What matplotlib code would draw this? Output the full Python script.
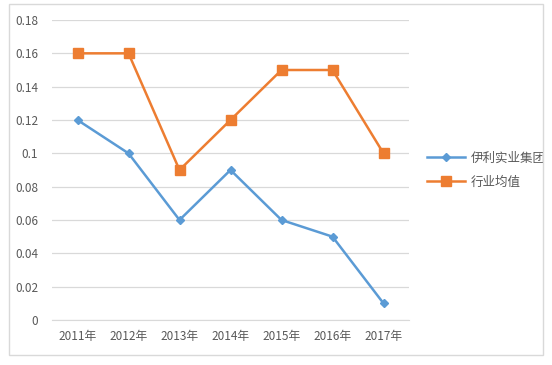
import matplotlib
matplotlib.use("Agg")
import matplotlib.pyplot as plt
from matplotlib.patches import Rectangle
from matplotlib.ticker import FuncFormatter

plt.rcParams['font.family'] = ['Noto Sans CJK SC', 'DejaVu Sans']

years = ['2011年', '2012年', '2013年', '2014年', '2015年', '2016年', '2017年']
yili = [0.12, 0.10, 0.06, 0.09, 0.06, 0.05, 0.01]
industry = [0.16, 0.16, 0.09, 0.12, 0.15, 0.15, 0.10]
y_ticks = [0, 0.02, 0.04, 0.06, 0.08, 0.10, 0.12, 0.14, 0.16, 0.18]

text_color = '#595959'
grid_color = '#d9d9d9'

fig = plt.figure(figsize=(5.52, 3.65), dpi=100)
fig.patches.append(Rectangle((9 / 552, 10 / 365), 534 / 552, 351 / 365,
                             transform=fig.transFigure, fill=False,
                             edgecolor=grid_color, linewidth=1.0))

ax = fig.add_axes([52 / 552, 45 / 365, 357 / 552, 300 / 365])
x = list(range(len(years)))
ax.plot(x, yili, color='#5B9BD5', linewidth=1.8, marker='D', markersize=4.5,
        label='伊利实业集团')
ax.plot(x, industry, color='#ED7D31', linewidth=1.8, marker='s', markersize=6.5,
        label='行业均值')

ax.set_xlim(-0.5, len(years) - 0.5)
ax.set_ylim(0, 0.18)
ax.set_yticks(y_ticks)
ax.yaxis.set_major_formatter(FuncFormatter(lambda v, p: f'{v:g}'))
ax.set_xticks(x)
ax.set_xticklabels(years)
ax.grid(axis='y', color=grid_color, linewidth=0.9)
ax.set_axisbelow(True)
for s in ['top', 'right', 'left']:
    ax.spines[s].set_visible(False)
ax.spines['bottom'].set_color(grid_color)
ax.tick_params(length=0, colors=text_color, labelsize=8.5)
ax.tick_params(axis='y', pad=10)
ax.tick_params(axis='x', pad=7)

leg = ax.legend(loc='center left', bbox_to_anchor=(1.02, 0.5), frameon=False,
                fontsize=9, handlelength=3.0, handletextpad=0.5,
                labelspacing=0.9)
for t in leg.get_texts():
    t.set_color(text_color)

fig.savefig('out.png', dpi=100)
